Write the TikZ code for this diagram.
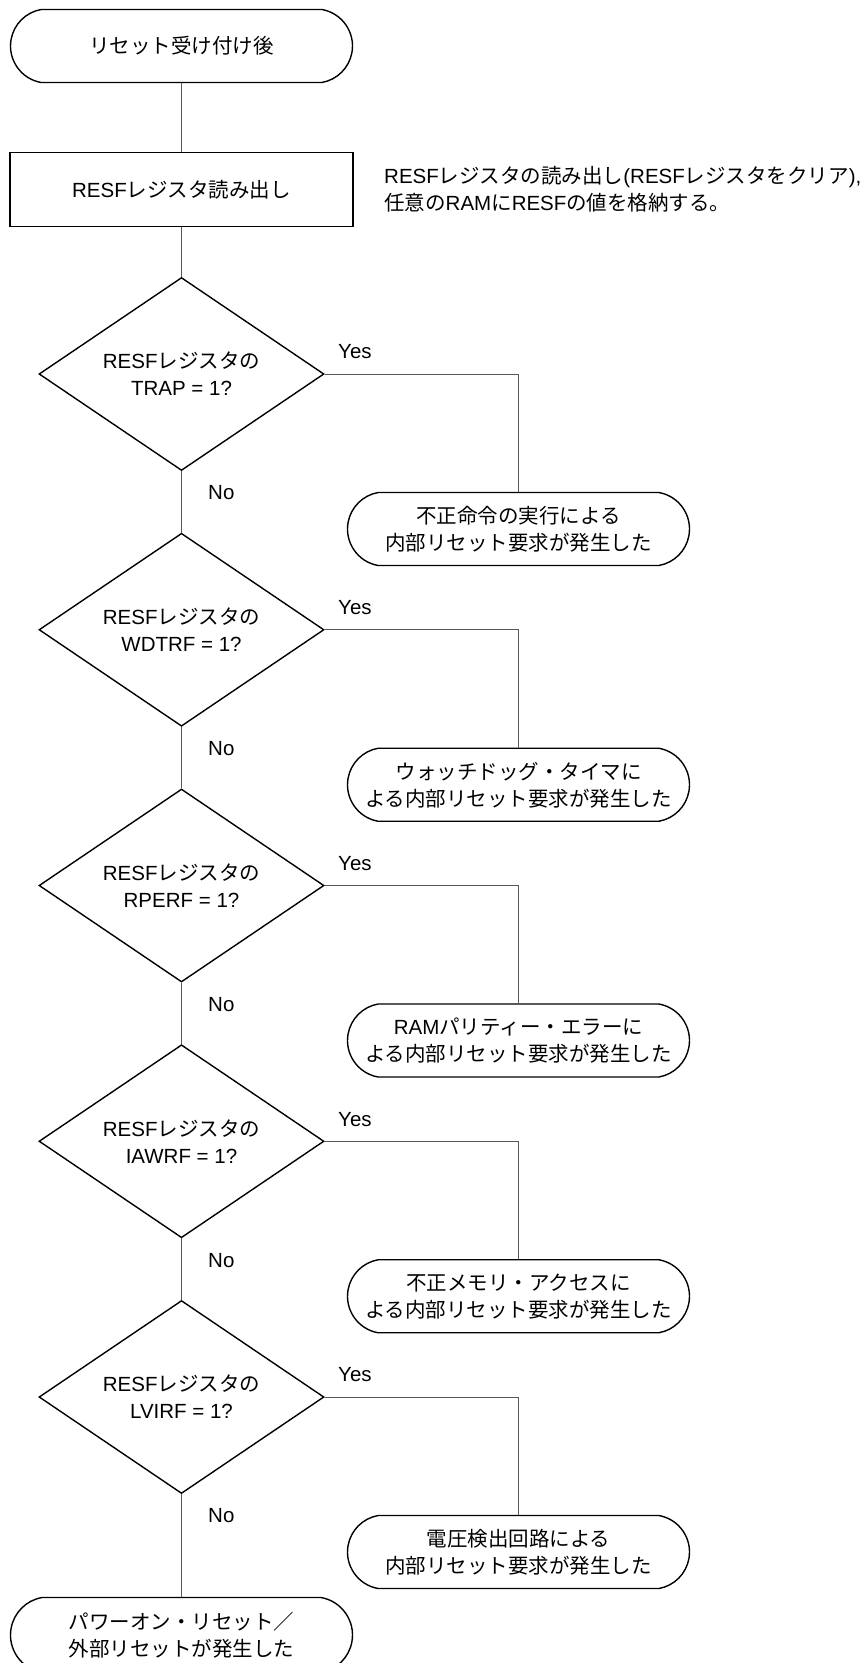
\documentclass[tikz,border=0pt]{standalone}
\usepackage{fontspec}
\setmainfont{Noto Sans CJK JP}
\newfontfamily\latf{Liberation Sans}
\newcommand\la[1]{{\latf #1}}
\usetikzlibrary{shapes.geometric,shapes.misc}
\begin{document}
\begin{tikzpicture}[x=1pt,y=-1pt,
  every node/.style={font=\fontsize{20.5}{27}\selectfont, inner sep=0pt},
  term/.style={rounded rectangle, rounded rectangle arc length=160, draw, line width=1.4pt, minimum width=342pt, minimum height=73pt, align=center},
  procbox/.style={rectangle, draw, line width=1.4pt, minimum width=343pt, minimum height=74pt, align=center},
  dec/.style={diamond, draw, line width=1.4pt, minimum width=285pt, minimum height=193pt, shape aspect=1.48, align=center},
  conn/.style={line width=1pt, draw=black!65},
  lbl/.style={anchor=west}
]
\useasboundingbox (0,0) rectangle (864,1663);
\fill[white] (0,0) rectangle (864,1663);

\node[term] (start) at (181.5,46) {リセット受け付け後};
\node[procbox] (read) at (181.5,189.7) {\la{RESF}レジスタ読み出し};
\node[anchor=west, align=left] (note) at (384,189.7) {\la{RESF}レジスタの読み出し\la{(RESF}レジスタをクリア\la{),}\\任意の\la{RAM}に\la{RESF}の値を格納する。};

\node[dec] (d1) at (181.5,374) {\la{RESF}レジスタの\\\la{TRAP = 1?}};
\node[term] (t1) at (518.5,529) {不正命令の実行による\\内部リセット要求が発生した};
\node[lbl] (y1) at (338,352) {\la{Yes}};
\node[lbl] (n1) at (208,493) {\la{No}};

\node[dec] (d2) at (181.5,629.75) {\la{RESF}レジスタの\\\la{WDTRF = 1?}};
\node[term] (t2) at (518.5,784.75) {ウォッチドッグ・タイマに\\よる内部リセット要求が発生した};
\node[lbl] (y2) at (338,607.75) {\la{Yes}};
\node[lbl] (n2) at (208,748.75) {\la{No}};

\node[dec] (d3) at (181.5,885.5) {\la{RESF}レジスタの\\\la{RPERF = 1?}};
\node[term] (t3) at (518.5,1040.5) {\la{RAM}パリティー・エラーに\\よる内部リセット要求が発生した};
\node[lbl] (y3) at (338,863.5) {\la{Yes}};
\node[lbl] (n3) at (208,1004.5) {\la{No}};

\node[dec] (d4) at (181.5,1141.25) {\la{RESF}レジスタの\\\la{IAWRF = 1?}};
\node[term] (t4) at (518.5,1296.25) {不正メモリ・アクセスに\\よる内部リセット要求が発生した};
\node[lbl] (y4) at (338,1119.25) {\la{Yes}};
\node[lbl] (n4) at (208,1260.25) {\la{No}};

\node[dec] (d5) at (181.5,1397) {\la{RESF}レジスタの\\\la{LVIRF = 1?}};
\node[term] (t5) at (518.5,1552) {電圧検出回路による\\内部リセット要求が発生した};
\node[lbl] (y5) at (338,1375) {\la{Yes}};
\node[lbl] (n5) at (208,1516) {\la{No}};

\node[term, minimum height=75pt] (final) at (181.5,1635) {パワーオン・リセット／\\外部リセットが発生した};

\draw[conn] (start.south) -- (read.north);
\draw[conn] (read.south) -- (d1.north);
\draw[conn] (d1.east) -| (t1.north);
\draw[conn] (d1.south) -- (d2.north);
\draw[conn] (d2.east) -| (t2.north);
\draw[conn] (d2.south) -- (d3.north);
\draw[conn] (d3.east) -| (t3.north);
\draw[conn] (d3.south) -- (d4.north);
\draw[conn] (d4.east) -| (t4.north);
\draw[conn] (d4.south) -- (d5.north);
\draw[conn] (d5.east) -| (t5.north);
\draw[conn] (d5.south) -- (final.north);
\end{tikzpicture}
\end{document}
